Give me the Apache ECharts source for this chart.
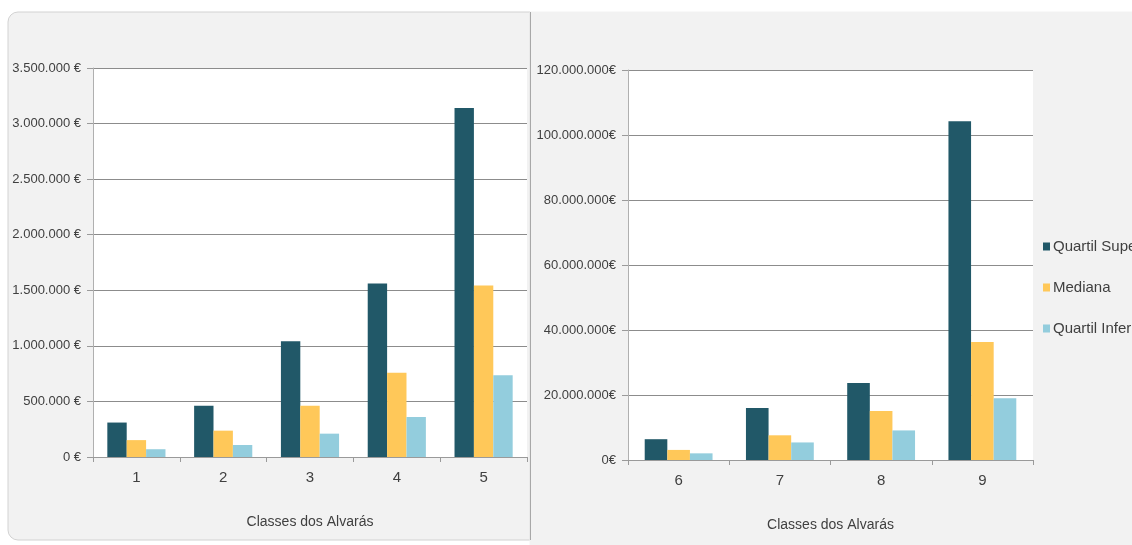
<!DOCTYPE html>
<html>
<head>
<meta charset="utf-8">
<script src="https://cdn.jsdelivr.net/npm/echarts@6/dist/echarts.min.js"></script>
<style>
  html, body { margin: 0; padding: 0; background: #ffffff; }
  #chart { width: 1132px; height: 545px; }
</style>
</head>
<body>
<div id="chart"></div>
<script>
// Classes 1–5 (left panel) and 6–9 (right panel)
const classesLow = ['1', '2', '3', '4', '5'];
const classesHigh = ['6', '7', '8', '9'];

// Values in euros per class
const quartilSuperiorLow = [310000, 462000, 1041000, 1560000, 3140000];
const medianaLow = [152000, 237000, 462000, 759000, 1542000];
const quartilInferiorLow = [70000, 108000, 210000, 360000, 735000];

const quartilSuperiorHigh = [6400000, 16000000, 23700000, 104200000];
const medianaHigh = [3100000, 7600000, 15100000, 36300000];
const quartilInferiorHigh = [2050000, 5400000, 9100000, 19000000];

const seriesNames = ['Quartil Superior', 'Mediana', 'Quartil Inferior'];
const axisTitle = 'Classes dos Alvarás';

const colors = ['#215868', '#FFC859', '#93CDDD'];
const FONT = '"Liberation Sans Narrow", "Liberation Sans", sans-serif';
const TEXT = '#404040';

function euro(v, sep) {
  const s = String(Math.round(v)).replace(/\B(?=(\d{3})+(?!\d))/g, '.');
  return s + sep + '€';
}

function xAxisFor(gridIndex, data) {
  return {
    type: 'category', gridIndex, data,
    name: axisTitle, nameLocation: 'middle', nameGap: 58,
    nameTextStyle: { fontFamily: FONT, fontSize: 14, color: TEXT },
    axisLine: { lineStyle: { color: '#9a9a9a', width: 1 } },
    axisTick: { show: true, length: 5, lineStyle: { color: '#9a9a9a' } },
    axisLabel: { fontFamily: FONT, fontSize: 15, color: TEXT, margin: 13 },
    splitLine: { show: false }
  };
}

function yAxisFor(gridIndex, max, interval, sep) {
  return {
    type: 'value', gridIndex, min: 0, max, interval,
    axisLine: { show: true, lineStyle: { color: '#b0b0b0', width: 1 } },
    axisTick: { show: true, length: 6, lineStyle: { color: '#9a9a9a' } },
    axisLabel: { fontFamily: FONT, fontSize: 13, color: TEXT, margin: 12,
                 formatter: v => euro(v, sep) },
    splitLine: { show: true, lineStyle: { color: '#8c8c8c', width: 1 } }
  };
}

function bars(name, data, idx, color) {
  return {
    type: 'bar', name, data, xAxisIndex: idx, yAxisIndex: idx,
    barGap: '0%', barCategoryGap: '33%',
    itemStyle: { color },
    emphasis: { disabled: true }
  };
}

const chart = echarts.init(document.getElementById('chart'), null, { renderer: 'canvas' });

chart.setOption({
  animation: false,
  backgroundColor: '#ffffff',
  graphic: [
    { type: 'rect', z: -10, shape: { x: 8, y: 12, width: 522, height: 528, r: [10, 0, 0, 10] },
      style: { fill: '#f2f2f2', stroke: '#d2d2d2', lineWidth: 1 } },
    { type: 'rect', z: -10, shape: { x: 530, y: 12, width: 610, height: 540 },
      style: { fill: '#f2f2f2', stroke: '#f2f2f2', lineWidth: 1 } },
    { type: 'line', z: -9, shape: { x1: 530.5, y1: 12, x2: 530.5, y2: 540 },
      style: { stroke: '#a8a8a8', lineWidth: 1 } }
  ],
  legend: {
    orient: 'vertical', left: 1038, top: 234,
    itemWidth: 7, itemHeight: 8, itemGap: 26,
    icon: 'rect',
    textStyle: { fontFamily: FONT, fontSize: 15, color: TEXT, padding: [0, 0, 0, -2] },
    data: seriesNames
  },
  grid: [
    { left: 93, right: 1132 - 527, top: 68, bottom: 545 - 457,
      show: true, backgroundColor: '#ffffff', borderWidth: 0 },
    { left: 628, right: 1132 - 1033, top: 70, bottom: 545 - 460,
      show: true, backgroundColor: '#ffffff', borderWidth: 0 }
  ],
  xAxis: [xAxisFor(0, classesLow), xAxisFor(1, classesHigh)],
  yAxis: [yAxisFor(0, 3500000, 500000, ' '), yAxisFor(1, 120000000, 20000000, '')],
  series: [
    bars(seriesNames[0], quartilSuperiorLow, 0, colors[0]),
    bars(seriesNames[1], medianaLow, 0, colors[1]),
    bars(seriesNames[2], quartilInferiorLow, 0, colors[2]),
    bars(seriesNames[0], quartilSuperiorHigh, 1, colors[0]),
    bars(seriesNames[1], medianaHigh, 1, colors[1]),
    bars(seriesNames[2], quartilInferiorHigh, 1, colors[2])
  ]
});
</script>
</body>
</html>
